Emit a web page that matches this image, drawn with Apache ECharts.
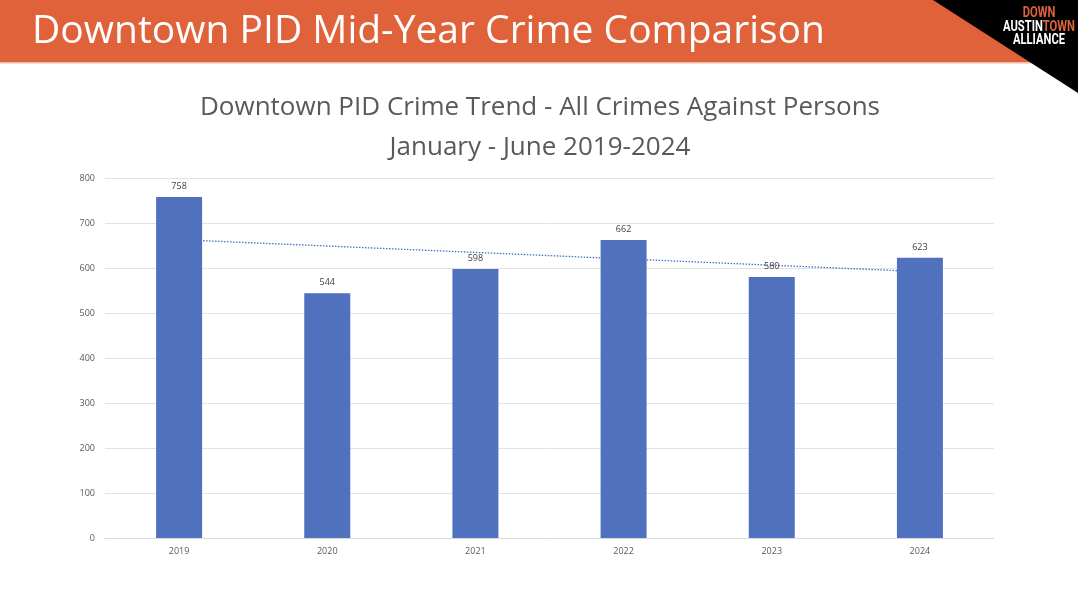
<!DOCTYPE html>
<html><head><meta charset="utf-8">
<script src="https://cdn.jsdelivr.net/npm/echarts@6/dist/echarts.min.js"></script>
<style>html,body{margin:0;padding:0;background:#fff}#c{width:1078px;height:600px}</style>
</head><body><div id="c"></div>
<script>
const categories = ['2019','2020','2021','2022','2023','2024'];
const crimeValues = [758, 544, 598, 662, 580, 623];
const trendValues = [663, null, null, null, null, 592];
const yTicks = [0,100,200,300,400,500,600,700,800];

const logoFont = 'bold 14px Roboto';
const chart = echarts.init(document.getElementById('c'));
chart.setOption({
  backgroundColor: '#ffffff',
  animation: false,
  grid: { left: 105, right: 84, top: 178, bottom: 62 },
  xAxis: {
    type: 'category', data: categories,
    axisLine: { lineStyle: { color: '#d9d9d9' } },
    axisTick: { show: false },
    axisLabel: { color: '#595959', fontSize: 9, fontFamily: 'Open Sans', margin: 9 }
  },
  yAxis: {
    type: 'value', min: yTicks[0], max: yTicks[yTicks.length-1], interval: 100,
    axisLine: { show: false }, axisTick: { show: false },
    splitLine: { lineStyle: { color: '#e3e3e3' } },
    axisLabel: { color: '#595959', fontSize: 9, fontFamily: 'Open Sans', margin: 10 }
  },
  series: [
    {
      type: 'bar', data: crimeValues, barWidth: 46, z: 3,
      itemStyle: { color: '#4F71BE' },
      label: { show: true, position: 'top', distance: 6, color: '#404040', fontSize: 9, fontFamily: 'Open Sans' }
    },
    {
      type: 'line', data: trendValues, connectNulls: true, symbol: 'none', z: 2,
      lineStyle: { color: '#4472C4', width: 1.3, type: [1.5, 1.5] }
    }
  ],
  graphic: [
    { type: 'text', x: 540, y: 108, z: 12, style: { text: 'Downtown PID Crime Trend - All Crimes Against Persons', fill: '#595959', font: '26px "Open Sans"', align: 'center', verticalAlign: 'middle' } },
    { type: 'text', x: 540, y: 148, z: 12, style: { text: 'January - June 2019-2024', fill: '#595959', font: '26px "Open Sans"', align: 'center', verticalAlign: 'middle' } },
    { type: 'rect', shape: { x: 0, y: 0, width: 1078, height: 62 }, style: { fill: '#E0623A' }, z: 10 },
    { type: 'rect', shape: { x: 0, y: 62, width: 1078, height: 1.5 }, style: { fill: '#F2B9A3' }, z: 10 },
    { type: 'polygon', shape: { points: [[933,0],[1078,0],[1078,93]] }, style: { fill: '#000000' }, z: 11 },
    { type: 'text', x: 32, y: 32, z: 12, style: { text: 'Downtown PID Mid-Year Crime Comparison', fill: '#ffffff', font: '39px "Open Sans"', verticalAlign: 'middle' } },
    { type: 'text', x: 1039, y: 13.5, scaleX: 0.8, z: 12, style: { text: 'DOWN', fill: '#E0623A', font: logoFont, align: 'center', verticalAlign: 'middle' } },
    { type: 'text', x: 1039, y: 27, scaleX: 0.8, z: 12, style: { rich: { a: { fill: '#ffffff', font: logoFont }, b: { fill: '#E0623A', font: logoFont } }, text: '{a|AUSTIN}{b|TOWN}', align: 'center', verticalAlign: 'middle' } },
    { type: 'text', x: 1039, y: 40.5, scaleX: 0.8, z: 12, style: { text: 'ALLIANCE', fill: '#ffffff', font: logoFont, align: 'center', verticalAlign: 'middle' } }
  ]
});
</script></body></html>
